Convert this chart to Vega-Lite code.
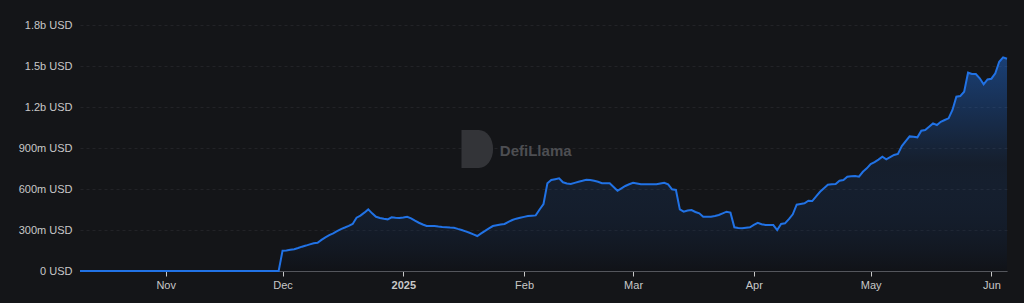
{
  "$schema": "https://vega.github.io/schema/vega-lite/v6.json",
  "width": 927,
  "height": 246,
  "autosize": {"type": "none"},
  "padding": {"left": 80, "top": 25, "right": 17, "bottom": 32},
  "background": "#141518",
  "config": {"view": {"stroke": null}, "font": "Liberation Sans"},
  "datasets": {
    "tvl": [
      {"date": "2024-10-10", "v": 0}, {"date": "2024-10-20", "v": 0}, {"date": "2024-11-01", "v": 0}, {"date": "2024-11-15", "v": 0}, {"date": "2024-11-30", "v": 0},
      {"date": "2024-12-01", "v": 148}, {"date": "2024-12-02", "v": 150}, {"date": "2024-12-03", "v": 155}, {"date": "2024-12-04", "v": 159}, {"date": "2024-12-05", "v": 168}, {"date": "2024-12-06", "v": 178}, {"date": "2024-12-07", "v": 186}, {"date": "2024-12-08", "v": 195}, {"date": "2024-12-09", "v": 203}, {"date": "2024-12-10", "v": 207}, {"date": "2024-12-11", "v": 228}, {"date": "2024-12-12", "v": 246}, {"date": "2024-12-13", "v": 262}, {"date": "2024-12-14", "v": 276}, {"date": "2024-12-15", "v": 292}, {"date": "2024-12-16", "v": 307}, {"date": "2024-12-17", "v": 318}, {"date": "2024-12-18", "v": 330}, {"date": "2024-12-19", "v": 344}, {"date": "2024-12-20", "v": 390}, {"date": "2024-12-21", "v": 405}, {"date": "2024-12-22", "v": 427}, {"date": "2024-12-23", "v": 451}, {"date": "2024-12-24", "v": 422}, {"date": "2024-12-25", "v": 397}, {"date": "2024-12-26", "v": 388}, {"date": "2024-12-27", "v": 382}, {"date": "2024-12-28", "v": 378}, {"date": "2024-12-29", "v": 393}, {"date": "2024-12-30", "v": 390}, {"date": "2024-12-31", "v": 388},
      {"date": "2025-01-01", "v": 392}, {"date": "2025-01-02", "v": 397}, {"date": "2025-01-03", "v": 385}, {"date": "2025-01-04", "v": 368}, {"date": "2025-01-05", "v": 353}, {"date": "2025-01-06", "v": 340}, {"date": "2025-01-07", "v": 329}, {"date": "2025-01-08", "v": 329}, {"date": "2025-01-09", "v": 329}, {"date": "2025-01-10", "v": 325}, {"date": "2025-01-11", "v": 322}, {"date": "2025-01-12", "v": 320}, {"date": "2025-01-13", "v": 318}, {"date": "2025-01-14", "v": 317}, {"date": "2025-01-15", "v": 308}, {"date": "2025-01-16", "v": 300}, {"date": "2025-01-17", "v": 290}, {"date": "2025-01-18", "v": 280}, {"date": "2025-01-19", "v": 268}, {"date": "2025-01-20", "v": 256}, {"date": "2025-01-21", "v": 275}, {"date": "2025-01-22", "v": 293}, {"date": "2025-01-23", "v": 312}, {"date": "2025-01-24", "v": 329}, {"date": "2025-01-25", "v": 335}, {"date": "2025-01-26", "v": 340}, {"date": "2025-01-27", "v": 344}, {"date": "2025-01-28", "v": 360}, {"date": "2025-01-29", "v": 373}, {"date": "2025-01-30", "v": 383}, {"date": "2025-01-31", "v": 390},
      {"date": "2025-02-01", "v": 396}, {"date": "2025-02-02", "v": 402}, {"date": "2025-02-03", "v": 405}, {"date": "2025-02-04", "v": 407}, {"date": "2025-02-05", "v": 450}, {"date": "2025-02-06", "v": 490}, {"date": "2025-02-07", "v": 642}, {"date": "2025-02-08", "v": 666}, {"date": "2025-02-09", "v": 672}, {"date": "2025-02-10", "v": 678}, {"date": "2025-02-11", "v": 649}, {"date": "2025-02-12", "v": 640}, {"date": "2025-02-13", "v": 637}, {"date": "2025-02-14", "v": 645}, {"date": "2025-02-15", "v": 653}, {"date": "2025-02-16", "v": 660}, {"date": "2025-02-17", "v": 668}, {"date": "2025-02-18", "v": 666}, {"date": "2025-02-19", "v": 660}, {"date": "2025-02-20", "v": 653}, {"date": "2025-02-21", "v": 642}, {"date": "2025-02-22", "v": 642}, {"date": "2025-02-23", "v": 642}, {"date": "2025-02-24", "v": 615}, {"date": "2025-02-25", "v": 587}, {"date": "2025-02-26", "v": 605}, {"date": "2025-02-27", "v": 622}, {"date": "2025-02-28", "v": 635},
      {"date": "2025-03-01", "v": 646}, {"date": "2025-03-02", "v": 640}, {"date": "2025-03-03", "v": 634}, {"date": "2025-03-04", "v": 634}, {"date": "2025-03-05", "v": 634}, {"date": "2025-03-06", "v": 634}, {"date": "2025-03-07", "v": 634}, {"date": "2025-03-08", "v": 640}, {"date": "2025-03-09", "v": 646}, {"date": "2025-03-10", "v": 634}, {"date": "2025-03-11", "v": 598}, {"date": "2025-03-12", "v": 593}, {"date": "2025-03-13", "v": 451}, {"date": "2025-03-14", "v": 434}, {"date": "2025-03-15", "v": 442}, {"date": "2025-03-16", "v": 446}, {"date": "2025-03-17", "v": 432}, {"date": "2025-03-18", "v": 422}, {"date": "2025-03-19", "v": 397}, {"date": "2025-03-20", "v": 397}, {"date": "2025-03-21", "v": 397}, {"date": "2025-03-22", "v": 403}, {"date": "2025-03-23", "v": 410}, {"date": "2025-03-24", "v": 422}, {"date": "2025-03-25", "v": 434}, {"date": "2025-03-26", "v": 427}, {"date": "2025-03-27", "v": 320}, {"date": "2025-03-28", "v": 315}, {"date": "2025-03-29", "v": 312}, {"date": "2025-03-30", "v": 316}, {"date": "2025-03-31", "v": 320},
      {"date": "2025-04-01", "v": 338}, {"date": "2025-04-02", "v": 353}, {"date": "2025-04-03", "v": 342}, {"date": "2025-04-04", "v": 336}, {"date": "2025-04-05", "v": 336}, {"date": "2025-04-06", "v": 336}, {"date": "2025-04-07", "v": 300}, {"date": "2025-04-08", "v": 344}, {"date": "2025-04-09", "v": 349}, {"date": "2025-04-10", "v": 380}, {"date": "2025-04-11", "v": 415}, {"date": "2025-04-12", "v": 485}, {"date": "2025-04-13", "v": 490}, {"date": "2025-04-14", "v": 495}, {"date": "2025-04-15", "v": 514}, {"date": "2025-04-16", "v": 512}, {"date": "2025-04-17", "v": 546}, {"date": "2025-04-18", "v": 580}, {"date": "2025-04-19", "v": 605}, {"date": "2025-04-20", "v": 631}, {"date": "2025-04-21", "v": 634}, {"date": "2025-04-22", "v": 637}, {"date": "2025-04-23", "v": 661}, {"date": "2025-04-24", "v": 666}, {"date": "2025-04-25", "v": 690}, {"date": "2025-04-26", "v": 693}, {"date": "2025-04-27", "v": 695}, {"date": "2025-04-28", "v": 690}, {"date": "2025-04-29", "v": 726}, {"date": "2025-04-30", "v": 751},
      {"date": "2025-05-01", "v": 783}, {"date": "2025-05-02", "v": 797}, {"date": "2025-05-03", "v": 815}, {"date": "2025-05-04", "v": 836}, {"date": "2025-05-05", "v": 817}, {"date": "2025-05-06", "v": 833}, {"date": "2025-05-07", "v": 849}, {"date": "2025-05-08", "v": 856}, {"date": "2025-05-09", "v": 914}, {"date": "2025-05-10", "v": 950}, {"date": "2025-05-11", "v": 985}, {"date": "2025-05-12", "v": 983}, {"date": "2025-05-13", "v": 978}, {"date": "2025-05-14", "v": 1026}, {"date": "2025-05-15", "v": 1031}, {"date": "2025-05-16", "v": 1055}, {"date": "2025-05-17", "v": 1080}, {"date": "2025-05-18", "v": 1068}, {"date": "2025-05-19", "v": 1092}, {"date": "2025-05-20", "v": 1105}, {"date": "2025-05-21", "v": 1117}, {"date": "2025-05-22", "v": 1178}, {"date": "2025-05-23", "v": 1275}, {"date": "2025-05-24", "v": 1280}, {"date": "2025-05-25", "v": 1312}, {"date": "2025-05-26", "v": 1451}, {"date": "2025-05-27", "v": 1441}, {"date": "2025-05-28", "v": 1441}, {"date": "2025-05-29", "v": 1410}, {"date": "2025-05-30", "v": 1366}, {"date": "2025-05-31", "v": 1402},
      {"date": "2025-06-01", "v": 1407}, {"date": "2025-06-02", "v": 1446}, {"date": "2025-06-03", "v": 1531}, {"date": "2025-06-04", "v": 1563}, {"date": "2025-06-05", "v": 1553}
    ],
    "logo": [{"date": "2025-01-20", "v": 892}],
    "brand": [{"date": "2025-02-04", "v": 878, "label": "DefiLlama"}]
  },
  "encoding": {
    "x": {
      "field": "date",
      "type": "temporal",
      "scale": {
        "type": "utc",
        "domain": [{"year": 2024, "month": 10, "date": 10, "utc": true}, {"year": 2025, "month": 6, "date": 5, "utc": true}]
      },
      "axis": {
        "title": null,
        "grid": false,
        "values": [
          {"year": 2024, "month": 11, "date": 1, "utc": true},
          {"year": 2024, "month": 12, "date": 1, "utc": true},
          {"year": 2025, "month": 1, "date": 1, "utc": true},
          {"year": 2025, "month": 2, "date": 1, "utc": true},
          {"year": 2025, "month": 3, "date": 1, "utc": true},
          {"year": 2025, "month": 4, "date": 1, "utc": true},
          {"year": 2025, "month": 5, "date": 1, "utc": true},
          {"year": 2025, "month": 6, "date": 1, "utc": true}
        ],
        "labelExpr": "utcmonth(datum.value) == 0 ? utcFormat(datum.value, '%Y') : utcFormat(datum.value, '%b')",
        "labelFontWeight": {"condition": {"test": "utcmonth(datum.value) == 0", "value": "bold"}, "value": "normal"},
        "labelColor": "#c8c8c8",
        "labelFontSize": 11,
        "labelPadding": 3,
        "labelFlush": false,
        "domainColor": "#54565c",
        "tickColor": "#c8c8c8",
        "tickSize": 5
      }
    },
    "y": {
      "field": "v",
      "type": "quantitative",
      "scale": {"domain": [0, 1800], "nice": false},
      "axis": {
        "title": null,
        "values": [0, 300, 600, 900, 1200, 1500, 1800],
        "labelExpr": "datum.value == 0 ? '0 USD' : (datum.value < 1000 ? format(datum.value, 'd') + 'm USD' : format(datum.value / 1000, '.1f') + 'b USD')",
        "labelColor": "#c8c8c8",
        "labelFontSize": 11,
        "labelPadding": 8,
        "domain": false,
        "ticks": false,
        "gridColor": "#222327",
        "gridDash": [3, 3],
        "gridWidth": 1
      }
    }
  },
  "layer": [
    {
      "data": {"name": "logo"},
      "mark": {"type": "point", "filled": true, "shape": "M-1,-1.2 L0.1,-1.2 A0.9,1.2 0 0 1 0.1,1.2 L-1,1.2 Z", "size": 1000, "color": "#333438", "opacity": 1}
    },
    {
      "data": {"name": "brand"},
      "mark": {"type": "text", "fontSize": 15, "fontWeight": "bold", "color": "#4d4e52", "align": "center", "baseline": "middle"},
      "encoding": {"text": {"field": "label"}}
    },
    {
      "data": {"name": "tvl"},
      "mark": {
        "type": "area",
        "interpolate": "linear",
        "line": {"color": "#2172e5", "strokeWidth": 2},
        "color": {
          "gradient": "linear",
          "x1": 1, "y1": 1, "x2": 1, "y2": 0,
          "stops": [
            {"offset": 0, "color": "rgba(8,12,22,0.4)"},
            {"offset": 0.5, "color": "rgba(33,114,229,0.14)"},
            {"offset": 1, "color": "rgba(33,114,229,0.65)"}
          ]
        }
      }
    }
  ]
}
